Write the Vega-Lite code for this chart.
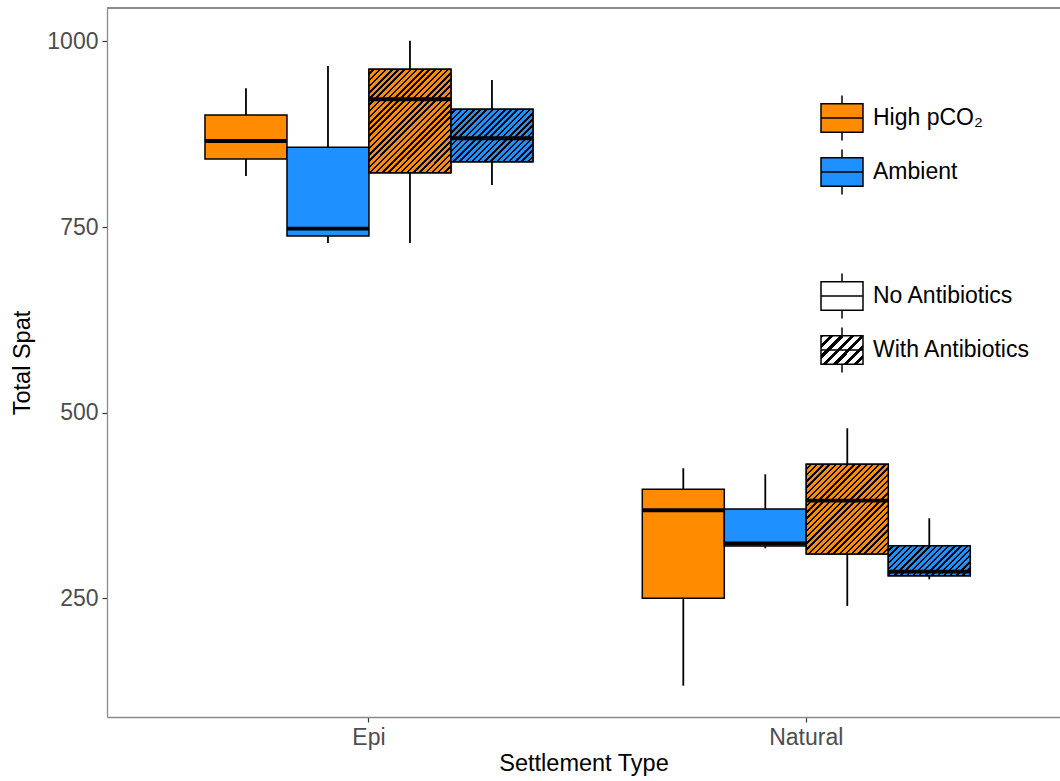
{
  "$schema": "https://vega.github.io/schema/vega-lite/v6.json",
  "autosize": {"type": "none"},
  "padding": {"left": 107, "top": 8, "right": 0, "bottom": 64},
  "width": 953,
  "height": 709,
  "background": "white",
  "config": {
    "view": {"stroke": "transparent"},
    "font": "Liberation Sans",
    "axis": {"labelFont": "Liberation Sans", "labelFontSize": 23, "labelColor": "#4d4d4d", "titleFont": "Liberation Sans", "titleFontSize": 23.5, "titleFontWeight": "normal", "titleColor": "#000000", "tickColor": "#333333", "tickSize": 5, "tickWidth": 1.2, "domain": true, "domainColor": "#8a8a8a", "domainWidth": 1.3, "grid": false, "labelPadding": 4},
    "legend": {"padding": 0, "labelFont": "Liberation Sans", "labelFontSize": 23, "labelColor": "#000000", "labelLimit": 300}
  },
  "data": {"values": [
    {"setting": "Epi", "pco2": "High pCO₂", "antibiotic": "No Antibiotics", "treatment": "High pCO₂ / No Antibiotics", "lower": 818.9, "q1": 841.8, "median": 866.0, "q3": 901.0, "upper": 937.0},
    {"setting": "Epi", "pco2": "Ambient", "antibiotic": "No Antibiotics", "treatment": "Ambient / No Antibiotics", "lower": 728.7, "q1": 738.1, "median": 747.9, "q3": 857.5, "upper": 967.0},
    {"setting": "Epi", "pco2": "High pCO₂", "antibiotic": "With Antibiotics", "treatment": "High pCO₂ / With Antibiotics", "lower": 728.7, "q1": 823.3, "median": 922.2, "q3": 962.6, "upper": 1001.0},
    {"setting": "Epi", "pco2": "Ambient", "antibiotic": "With Antibiotics", "treatment": "Ambient / With Antibiotics", "lower": 806.8, "q1": 838.1, "median": 869.7, "q3": 908.7, "upper": 948.2},
    {"setting": "Natural", "pco2": "High pCO₂", "antibiotic": "No Antibiotics", "treatment": "High pCO₂ / No Antibiotics", "lower": 132.6, "q1": 250.3, "median": 368.8, "q3": 397.0, "upper": 425.3},
    {"setting": "Natural", "pco2": "Ambient", "antibiotic": "No Antibiotics", "treatment": "Ambient / No Antibiotics", "lower": 317.6, "q1": 320.7, "median": 324.1, "q3": 370.5, "upper": 417.2},
    {"setting": "Natural", "pco2": "High pCO₂", "antibiotic": "With Antibiotics", "treatment": "High pCO₂ / With Antibiotics", "lower": 239.9, "q1": 309.9, "median": 381.7, "q3": 430.7, "upper": 479.2},
    {"setting": "Natural", "pco2": "Ambient", "antibiotic": "With Antibiotics", "treatment": "Ambient / With Antibiotics", "lower": 275.9, "q1": 280.7, "median": 286.1, "q3": 321.1, "upper": 358.0}
  ]},
  "encoding": {
    "x": {"field": "setting", "type": "nominal", "title": "Settlement Type",
          "scale": {"paddingInner": 0.25, "paddingOuter": 0.2146, "align": 0.522},
          "axis": {"labelAngle": 0, "titlePadding": 2}},
    "xOffset": {"field": "treatment", "type": "nominal",
          "sort": ["High pCO₂ / No Antibiotics", "Ambient / No Antibiotics", "High pCO₂ / With Antibiotics", "Ambient / With Antibiotics"],
          "scale": {"paddingInner": 0, "paddingOuter": 0}}
  },
  "layer": [
    {
      "mark": {"type": "rule", "color": "#000000", "strokeWidth": 1.8},
      "encoding": {
        "y": {"field": "lower", "type": "quantitative", "title": "Total Spat",
              "scale": {"domain": [90.4, 1045.1], "nice": false, "zero": false},
              "axis": {"values": [250, 500, 750, 1000], "format": "d", "titlePadding": 12}},
        "y2": {"field": "upper"}
      }
    },
    {
      "mark": {"type": "bar", "stroke": "#000000", "strokeWidth": 1.5},
      "encoding": {
        "y": {"field": "q1", "type": "quantitative"},
        "y2": {"field": "q3"},
        "fill": {"field": "pco2", "type": "nominal",
                 "scale": {"domain": ["High pCO₂", "Ambient"], "range": ["#FF8C00", "#1E90FF"]},
                 "legend": {"title": null, "orient": "none", "legendX": 711.5, "legendY": 86.5,
                            "symbolType": "M-0.933,-0.633L0.933,-0.633L0.933,0.633L-0.933,0.633Z M-0.933,0L0.933,0 M0,-1L0,-0.633 M0,0.633L0,1",
                            "symbolSize": 2025, "symbolStrokeColor": "#000000", "symbolStrokeWidth": 1.5,
                            "rowPadding": 3, "labelOffset": 7.5}},
        "opacity": {"field": "antibiotic", "type": "ordinal",
                 "scale": {"domain": ["No Antibiotics", "With Antibiotics"], "range": [1, 1]},
                 "legend": {"title": null, "orient": "none", "legendX": 711.5, "legendY": 264.5,
                            "symbolType": "M-0.933,-0.633L0.933,-0.633L0.933,0.633L-0.933,0.633Z M-0.933,0L0.933,0 M0,-1L0,-0.633 M0,0.633L0,1",
                            "symbolSize": 2025, "symbolStrokeColor": "#000000", "symbolStrokeWidth": 1.5,
                            "rowPadding": 3, "labelOffset": 7.5,
                            "symbolFillColor": {"expr": "datum.value === 'With Antibiotics' ? {gradient: 'linear', x1: 0, y1: 0, x2: 4.656, y2: 4.988, stops: [{offset: 0, color: '#fff'}, {offset: 0.015, color: '#fff'}, {offset: 0.015, color: '#000'}, {offset: 0.025, color: '#000'}, {offset: 0.025, color: '#fff'}, {offset: 0.04, color: '#fff'}, {offset: 0.04, color: '#000'}, {offset: 0.05, color: '#000'}, {offset: 0.05, color: '#fff'}, {offset: 0.065, color: '#fff'}, {offset: 0.065, color: '#000'}, {offset: 0.075, color: '#000'}, {offset: 0.075, color: '#fff'}, {offset: 0.09, color: '#fff'}, {offset: 0.09, color: '#000'}, {offset: 0.1, color: '#000'}, {offset: 0.1, color: '#fff'}, {offset: 0.115, color: '#fff'}, {offset: 0.115, color: '#000'}, {offset: 0.125, color: '#000'}, {offset: 0.125, color: '#fff'}, {offset: 0.14, color: '#fff'}, {offset: 0.14, color: '#000'}, {offset: 0.15, color: '#000'}, {offset: 0.15, color: '#fff'}, {offset: 0.165, color: '#fff'}, {offset: 0.165, color: '#000'}, {offset: 0.175, color: '#000'}, {offset: 0.175, color: '#fff'}, {offset: 0.19, color: '#fff'}, {offset: 0.19, color: '#000'}, {offset: 0.2, color: '#000'}, {offset: 0.2, color: '#fff'}, {offset: 0.215, color: '#fff'}, {offset: 0.215, color: '#000'}, {offset: 0.225, color: '#000'}, {offset: 0.225, color: '#fff'}, {offset: 1, color: '#fff'}]} : '#ffffff'"}}}
      }
    },
    {
      "transform": [{"filter": "datum.setting === 'Epi' && datum.treatment === 'High pCO₂ / With Antibiotics'"}],
      "mark": {"type": "bar", "stroke": "#000000", "strokeWidth": 1.5,
        "fill": {"gradient": "linear", "x1": 0, "y1": 0, "x2": 1.1677, "y2": 1.4724, "stops": [
          {"offset":0,"color":"#FF8C00"},{"offset":0.015,"color":"#FF8C00"},{"offset":0.015,"color":"#000"},{"offset":0.025,"color":"#000"},
          {"offset":0.025,"color":"#FF8C00"},{"offset":0.04,"color":"#FF8C00"},{"offset":0.04,"color":"#000"},{"offset":0.05,"color":"#000"},
          {"offset":0.05,"color":"#FF8C00"},{"offset":0.065,"color":"#FF8C00"},{"offset":0.065,"color":"#000"},{"offset":0.075,"color":"#000"},
          {"offset":0.075,"color":"#FF8C00"},{"offset":0.09,"color":"#FF8C00"},{"offset":0.09,"color":"#000"},{"offset":0.1,"color":"#000"},
          {"offset":0.1,"color":"#FF8C00"},{"offset":0.115,"color":"#FF8C00"},{"offset":0.115,"color":"#000"},{"offset":0.125,"color":"#000"},
          {"offset":0.125,"color":"#FF8C00"},{"offset":0.14,"color":"#FF8C00"},{"offset":0.14,"color":"#000"},{"offset":0.15,"color":"#000"},
          {"offset":0.15,"color":"#FF8C00"},{"offset":0.165,"color":"#FF8C00"},{"offset":0.165,"color":"#000"},{"offset":0.175,"color":"#000"},
          {"offset":0.175,"color":"#FF8C00"},{"offset":0.19,"color":"#FF8C00"},{"offset":0.19,"color":"#000"},{"offset":0.2,"color":"#000"},
          {"offset":0.2,"color":"#FF8C00"},{"offset":0.215,"color":"#FF8C00"},{"offset":0.215,"color":"#000"},{"offset":0.225,"color":"#000"},
          {"offset":0.225,"color":"#FF8C00"},{"offset":0.24,"color":"#FF8C00"},{"offset":0.24,"color":"#000"},{"offset":0.25,"color":"#000"},
          {"offset":0.25,"color":"#FF8C00"},{"offset":0.265,"color":"#FF8C00"},{"offset":0.265,"color":"#000"},{"offset":0.275,"color":"#000"},
          {"offset":0.275,"color":"#FF8C00"},{"offset":0.29,"color":"#FF8C00"},{"offset":0.29,"color":"#000"},{"offset":0.3,"color":"#000"},
          {"offset":0.3,"color":"#FF8C00"},{"offset":0.315,"color":"#FF8C00"},{"offset":0.315,"color":"#000"},{"offset":0.325,"color":"#000"},
          {"offset":0.325,"color":"#FF8C00"},{"offset":0.34,"color":"#FF8C00"},{"offset":0.34,"color":"#000"},{"offset":0.35,"color":"#000"},
          {"offset":0.35,"color":"#FF8C00"},{"offset":0.365,"color":"#FF8C00"},{"offset":0.365,"color":"#000"},{"offset":0.375,"color":"#000"},
          {"offset":0.375,"color":"#FF8C00"},{"offset":0.39,"color":"#FF8C00"},{"offset":0.39,"color":"#000"},{"offset":0.4,"color":"#000"},
          {"offset":0.4,"color":"#FF8C00"},{"offset":0.415,"color":"#FF8C00"},{"offset":0.415,"color":"#000"},{"offset":0.425,"color":"#000"},
          {"offset":0.425,"color":"#FF8C00"},{"offset":0.44,"color":"#FF8C00"},{"offset":0.44,"color":"#000"},{"offset":0.45,"color":"#000"},
          {"offset":0.45,"color":"#FF8C00"},{"offset":0.465,"color":"#FF8C00"},{"offset":0.465,"color":"#000"},{"offset":0.475,"color":"#000"},
          {"offset":0.475,"color":"#FF8C00"},{"offset":0.49,"color":"#FF8C00"},{"offset":0.49,"color":"#000"},{"offset":0.5,"color":"#000"},
          {"offset":0.5,"color":"#FF8C00"},{"offset":0.515,"color":"#FF8C00"},{"offset":0.515,"color":"#000"},{"offset":0.525,"color":"#000"},
          {"offset":0.525,"color":"#FF8C00"},{"offset":0.54,"color":"#FF8C00"},{"offset":0.54,"color":"#000"},{"offset":0.55,"color":"#000"},
          {"offset":0.55,"color":"#FF8C00"},{"offset":0.565,"color":"#FF8C00"},{"offset":0.565,"color":"#000"},{"offset":0.575,"color":"#000"},
          {"offset":0.575,"color":"#FF8C00"},{"offset":0.59,"color":"#FF8C00"},{"offset":0.59,"color":"#000"},{"offset":0.6,"color":"#000"},
          {"offset":0.6,"color":"#FF8C00"},{"offset":0.615,"color":"#FF8C00"},{"offset":0.615,"color":"#000"},{"offset":0.625,"color":"#000"},
          {"offset":0.625,"color":"#FF8C00"},{"offset":0.64,"color":"#FF8C00"},{"offset":0.64,"color":"#000"},{"offset":0.65,"color":"#000"},
          {"offset":0.65,"color":"#FF8C00"},{"offset":0.665,"color":"#FF8C00"},{"offset":0.665,"color":"#000"},{"offset":0.675,"color":"#000"},
          {"offset":0.675,"color":"#FF8C00"},{"offset":0.69,"color":"#FF8C00"},{"offset":0.69,"color":"#000"},{"offset":0.7,"color":"#000"},
          {"offset":0.7,"color":"#FF8C00"},{"offset":0.715,"color":"#FF8C00"},{"offset":0.715,"color":"#000"},{"offset":0.725,"color":"#000"},
          {"offset":0.725,"color":"#FF8C00"},{"offset":0.74,"color":"#FF8C00"},{"offset":0.74,"color":"#000"},{"offset":0.75,"color":"#000"},
          {"offset":0.75,"color":"#FF8C00"},{"offset":1,"color":"#FF8C00"}
        ]}},
      "encoding": {"y": {"field": "q1", "type": "quantitative"}, "y2": {"field": "q3"}}
    },
    {
      "transform": [{"filter": "datum.setting === 'Epi' && datum.treatment === 'Ambient / With Antibiotics'"}],
      "mark": {"type": "bar", "stroke": "#000000", "strokeWidth": 1.5,
        "fill": {"gradient": "linear", "x1": 0, "y1": 0, "x2": 2.1475, "y2": 1.3723, "stops": [
          {"offset":0,"color":"#1E90FF"},{"offset":0.015,"color":"#1E90FF"},{"offset":0.015,"color":"#000"},{"offset":0.025,"color":"#000"},
          {"offset":0.025,"color":"#1E90FF"},{"offset":0.04,"color":"#1E90FF"},{"offset":0.04,"color":"#000"},{"offset":0.05,"color":"#000"},
          {"offset":0.05,"color":"#1E90FF"},{"offset":0.065,"color":"#1E90FF"},{"offset":0.065,"color":"#000"},{"offset":0.075,"color":"#000"},
          {"offset":0.075,"color":"#1E90FF"},{"offset":0.09,"color":"#1E90FF"},{"offset":0.09,"color":"#000"},{"offset":0.1,"color":"#000"},
          {"offset":0.1,"color":"#1E90FF"},{"offset":0.115,"color":"#1E90FF"},{"offset":0.115,"color":"#000"},{"offset":0.125,"color":"#000"},
          {"offset":0.125,"color":"#1E90FF"},{"offset":0.14,"color":"#1E90FF"},{"offset":0.14,"color":"#000"},{"offset":0.15,"color":"#000"},
          {"offset":0.15,"color":"#1E90FF"},{"offset":0.165,"color":"#1E90FF"},{"offset":0.165,"color":"#000"},{"offset":0.175,"color":"#000"},
          {"offset":0.175,"color":"#1E90FF"},{"offset":0.19,"color":"#1E90FF"},{"offset":0.19,"color":"#000"},{"offset":0.2,"color":"#000"},
          {"offset":0.2,"color":"#1E90FF"},{"offset":0.215,"color":"#1E90FF"},{"offset":0.215,"color":"#000"},{"offset":0.225,"color":"#000"},
          {"offset":0.225,"color":"#1E90FF"},{"offset":0.24,"color":"#1E90FF"},{"offset":0.24,"color":"#000"},{"offset":0.25,"color":"#000"},
          {"offset":0.25,"color":"#1E90FF"},{"offset":0.265,"color":"#1E90FF"},{"offset":0.265,"color":"#000"},{"offset":0.275,"color":"#000"},
          {"offset":0.275,"color":"#1E90FF"},{"offset":0.29,"color":"#1E90FF"},{"offset":0.29,"color":"#000"},{"offset":0.3,"color":"#000"},
          {"offset":0.3,"color":"#1E90FF"},{"offset":0.315,"color":"#1E90FF"},{"offset":0.315,"color":"#000"},{"offset":0.325,"color":"#000"},
          {"offset":0.325,"color":"#1E90FF"},{"offset":0.34,"color":"#1E90FF"},{"offset":0.34,"color":"#000"},{"offset":0.35,"color":"#000"},
          {"offset":0.35,"color":"#1E90FF"},{"offset":0.365,"color":"#1E90FF"},{"offset":0.365,"color":"#000"},{"offset":0.375,"color":"#000"},
          {"offset":0.375,"color":"#1E90FF"},{"offset":0.39,"color":"#1E90FF"},{"offset":0.39,"color":"#000"},{"offset":0.4,"color":"#000"},
          {"offset":0.4,"color":"#1E90FF"},{"offset":0.415,"color":"#1E90FF"},{"offset":0.415,"color":"#000"},{"offset":0.425,"color":"#000"},
          {"offset":0.425,"color":"#1E90FF"},{"offset":0.44,"color":"#1E90FF"},{"offset":0.44,"color":"#000"},{"offset":0.45,"color":"#000"},
          {"offset":0.45,"color":"#1E90FF"},{"offset":0.465,"color":"#1E90FF"},{"offset":0.465,"color":"#000"},{"offset":0.475,"color":"#000"},
          {"offset":0.475,"color":"#1E90FF"},{"offset":0.49,"color":"#1E90FF"},{"offset":0.49,"color":"#000"},{"offset":0.5,"color":"#000"},
          {"offset":0.5,"color":"#1E90FF"},{"offset":0.515,"color":"#1E90FF"},{"offset":0.515,"color":"#000"},{"offset":0.525,"color":"#000"},
          {"offset":0.525,"color":"#1E90FF"},{"offset":0.54,"color":"#1E90FF"},{"offset":0.54,"color":"#000"},{"offset":0.55,"color":"#000"},
          {"offset":0.55,"color":"#1E90FF"},{"offset":1,"color":"#1E90FF"}
        ]}},
      "encoding": {"y": {"field": "q1", "type": "quantitative"}, "y2": {"field": "q3"}}
    },
    {
      "transform": [{"filter": "datum.setting === 'Natural' && datum.treatment === 'High pCO₂ / With Antibiotics'"}],
      "mark": {"type": "bar", "stroke": "#000000", "strokeWidth": 1.5,
        "fill": {"gradient": "linear", "x1": 0, "y1": 0, "x2": 1.3769, "y2": 1.5061, "stops": [
          {"offset":0,"color":"#FF8C00"},{"offset":0.015,"color":"#FF8C00"},{"offset":0.015,"color":"#000"},{"offset":0.025,"color":"#000"},
          {"offset":0.025,"color":"#FF8C00"},{"offset":0.04,"color":"#FF8C00"},{"offset":0.04,"color":"#000"},{"offset":0.05,"color":"#000"},
          {"offset":0.05,"color":"#FF8C00"},{"offset":0.065,"color":"#FF8C00"},{"offset":0.065,"color":"#000"},{"offset":0.075,"color":"#000"},
          {"offset":0.075,"color":"#FF8C00"},{"offset":0.09,"color":"#FF8C00"},{"offset":0.09,"color":"#000"},{"offset":0.1,"color":"#000"},
          {"offset":0.1,"color":"#FF8C00"},{"offset":0.115,"color":"#FF8C00"},{"offset":0.115,"color":"#000"},{"offset":0.125,"color":"#000"},
          {"offset":0.125,"color":"#FF8C00"},{"offset":0.14,"color":"#FF8C00"},{"offset":0.14,"color":"#000"},{"offset":0.15,"color":"#000"},
          {"offset":0.15,"color":"#FF8C00"},{"offset":0.165,"color":"#FF8C00"},{"offset":0.165,"color":"#000"},{"offset":0.175,"color":"#000"},
          {"offset":0.175,"color":"#FF8C00"},{"offset":0.19,"color":"#FF8C00"},{"offset":0.19,"color":"#000"},{"offset":0.2,"color":"#000"},
          {"offset":0.2,"color":"#FF8C00"},{"offset":0.215,"color":"#FF8C00"},{"offset":0.215,"color":"#000"},{"offset":0.225,"color":"#000"},
          {"offset":0.225,"color":"#FF8C00"},{"offset":0.24,"color":"#FF8C00"},{"offset":0.24,"color":"#000"},{"offset":0.25,"color":"#000"},
          {"offset":0.25,"color":"#FF8C00"},{"offset":0.265,"color":"#FF8C00"},{"offset":0.265,"color":"#000"},{"offset":0.275,"color":"#000"},
          {"offset":0.275,"color":"#FF8C00"},{"offset":0.29,"color":"#FF8C00"},{"offset":0.29,"color":"#000"},{"offset":0.3,"color":"#000"},
          {"offset":0.3,"color":"#FF8C00"},{"offset":0.315,"color":"#FF8C00"},{"offset":0.315,"color":"#000"},{"offset":0.325,"color":"#000"},
          {"offset":0.325,"color":"#FF8C00"},{"offset":0.34,"color":"#FF8C00"},{"offset":0.34,"color":"#000"},{"offset":0.35,"color":"#000"},
          {"offset":0.35,"color":"#FF8C00"},{"offset":0.365,"color":"#FF8C00"},{"offset":0.365,"color":"#000"},{"offset":0.375,"color":"#000"},
          {"offset":0.375,"color":"#FF8C00"},{"offset":0.39,"color":"#FF8C00"},{"offset":0.39,"color":"#000"},{"offset":0.4,"color":"#000"},
          {"offset":0.4,"color":"#FF8C00"},{"offset":0.415,"color":"#FF8C00"},{"offset":0.415,"color":"#000"},{"offset":0.425,"color":"#000"},
          {"offset":0.425,"color":"#FF8C00"},{"offset":0.44,"color":"#FF8C00"},{"offset":0.44,"color":"#000"},{"offset":0.45,"color":"#000"},
          {"offset":0.45,"color":"#FF8C00"},{"offset":0.465,"color":"#FF8C00"},{"offset":0.465,"color":"#000"},{"offset":0.475,"color":"#000"},
          {"offset":0.475,"color":"#FF8C00"},{"offset":0.49,"color":"#FF8C00"},{"offset":0.49,"color":"#000"},{"offset":0.5,"color":"#000"},
          {"offset":0.5,"color":"#FF8C00"},{"offset":0.515,"color":"#FF8C00"},{"offset":0.515,"color":"#000"},{"offset":0.525,"color":"#000"},
          {"offset":0.525,"color":"#FF8C00"},{"offset":0.54,"color":"#FF8C00"},{"offset":0.54,"color":"#000"},{"offset":0.55,"color":"#000"},
          {"offset":0.55,"color":"#FF8C00"},{"offset":0.565,"color":"#FF8C00"},{"offset":0.565,"color":"#000"},{"offset":0.575,"color":"#000"},
          {"offset":0.575,"color":"#FF8C00"},{"offset":0.59,"color":"#FF8C00"},{"offset":0.59,"color":"#000"},{"offset":0.6,"color":"#000"},
          {"offset":0.6,"color":"#FF8C00"},{"offset":0.615,"color":"#FF8C00"},{"offset":0.615,"color":"#000"},{"offset":0.625,"color":"#000"},
          {"offset":0.625,"color":"#FF8C00"},{"offset":0.64,"color":"#FF8C00"},{"offset":0.64,"color":"#000"},{"offset":0.65,"color":"#000"},
          {"offset":0.65,"color":"#FF8C00"},{"offset":0.665,"color":"#FF8C00"},{"offset":0.665,"color":"#000"},{"offset":0.675,"color":"#000"},
          {"offset":0.675,"color":"#FF8C00"},{"offset":0.69,"color":"#FF8C00"},{"offset":0.69,"color":"#000"},{"offset":0.7,"color":"#000"},
          {"offset":0.7,"color":"#FF8C00"},{"offset":1,"color":"#FF8C00"}
        ]}},
      "encoding": {"y": {"field": "q1", "type": "quantitative"}, "y2": {"field": "q3"}}
    },
    {
      "transform": [{"filter": "datum.setting === 'Natural' && datum.treatment === 'Ambient / With Antibiotics'"}],
      "mark": {"type": "bar", "stroke": "#000000", "strokeWidth": 1.5,
        "fill": {"gradient": "linear", "x1": 0, "y1": 0, "x2": 2.6674, "y2": 0.9759, "stops": [
          {"offset":0,"color":"#1E90FF"},{"offset":0.015,"color":"#1E90FF"},{"offset":0.015,"color":"#000"},{"offset":0.025,"color":"#000"},
          {"offset":0.025,"color":"#1E90FF"},{"offset":0.04,"color":"#1E90FF"},{"offset":0.04,"color":"#000"},{"offset":0.05,"color":"#000"},
          {"offset":0.05,"color":"#1E90FF"},{"offset":0.065,"color":"#1E90FF"},{"offset":0.065,"color":"#000"},{"offset":0.075,"color":"#000"},
          {"offset":0.075,"color":"#1E90FF"},{"offset":0.09,"color":"#1E90FF"},{"offset":0.09,"color":"#000"},{"offset":0.1,"color":"#000"},
          {"offset":0.1,"color":"#1E90FF"},{"offset":0.115,"color":"#1E90FF"},{"offset":0.115,"color":"#000"},{"offset":0.125,"color":"#000"},
          {"offset":0.125,"color":"#1E90FF"},{"offset":0.14,"color":"#1E90FF"},{"offset":0.14,"color":"#000"},{"offset":0.15,"color":"#000"},
          {"offset":0.15,"color":"#1E90FF"},{"offset":0.165,"color":"#1E90FF"},{"offset":0.165,"color":"#000"},{"offset":0.175,"color":"#000"},
          {"offset":0.175,"color":"#1E90FF"},{"offset":0.19,"color":"#1E90FF"},{"offset":0.19,"color":"#000"},{"offset":0.2,"color":"#000"},
          {"offset":0.2,"color":"#1E90FF"},{"offset":0.215,"color":"#1E90FF"},{"offset":0.215,"color":"#000"},{"offset":0.225,"color":"#000"},
          {"offset":0.225,"color":"#1E90FF"},{"offset":0.24,"color":"#1E90FF"},{"offset":0.24,"color":"#000"},{"offset":0.25,"color":"#000"},
          {"offset":0.25,"color":"#1E90FF"},{"offset":0.265,"color":"#1E90FF"},{"offset":0.265,"color":"#000"},{"offset":0.275,"color":"#000"},
          {"offset":0.275,"color":"#1E90FF"},{"offset":0.29,"color":"#1E90FF"},{"offset":0.29,"color":"#000"},{"offset":0.3,"color":"#000"},
          {"offset":0.3,"color":"#1E90FF"},{"offset":0.315,"color":"#1E90FF"},{"offset":0.315,"color":"#000"},{"offset":0.325,"color":"#000"},
          {"offset":0.325,"color":"#1E90FF"},{"offset":0.34,"color":"#1E90FF"},{"offset":0.34,"color":"#000"},{"offset":0.35,"color":"#000"},
          {"offset":0.35,"color":"#1E90FF"},{"offset":0.365,"color":"#1E90FF"},{"offset":0.365,"color":"#000"},{"offset":0.375,"color":"#000"},
          {"offset":0.375,"color":"#1E90FF"},{"offset":0.39,"color":"#1E90FF"},{"offset":0.39,"color":"#000"},{"offset":0.4,"color":"#000"},
          {"offset":0.4,"color":"#1E90FF"},{"offset":0.415,"color":"#1E90FF"},{"offset":0.415,"color":"#000"},{"offset":0.425,"color":"#000"},
          {"offset":0.425,"color":"#1E90FF"},{"offset":0.44,"color":"#1E90FF"},{"offset":0.44,"color":"#000"},{"offset":0.45,"color":"#000"},
          {"offset":0.45,"color":"#1E90FF"},{"offset":0.465,"color":"#1E90FF"},{"offset":0.465,"color":"#000"},{"offset":0.475,"color":"#000"},
          {"offset":0.475,"color":"#1E90FF"},{"offset":1,"color":"#1E90FF"}
        ]}},
      "encoding": {"y": {"field": "q1", "type": "quantitative"}, "y2": {"field": "q3"}}
    },
    {
      "mark": {"type": "tick", "color": "#000000", "size": 82, "thickness": 3.8, "opacity": 1},
      "encoding": {"y": {"field": "median", "type": "quantitative"}}
    },
    {
      "mark": {"type": "rule", "color": "#8a8a8a", "strokeWidth": 1.3},
      "encoding": {"y": {"datum": 1045.1, "type": "quantitative"}, "x": null, "xOffset": null}
    }
  ]
}
